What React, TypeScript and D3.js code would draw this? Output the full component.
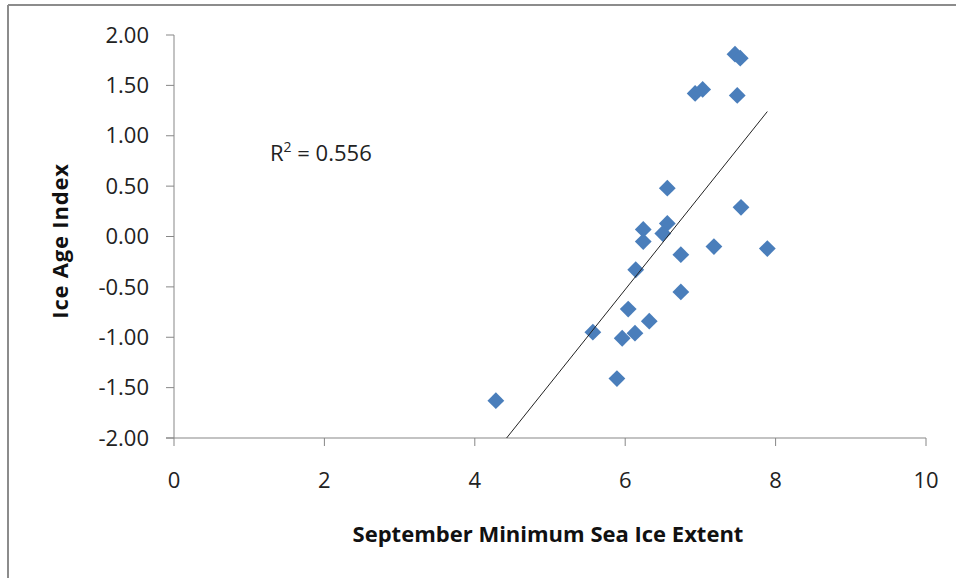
import React from 'react';
import * as d3 from 'd3';

// september minimum extent vs ice age index
const extent = [7.46, 7.53, 6.93, 7.03, 7.49, 6.56, 7.54, 6.24, 6.56, 6.50, 6.24, 7.18,
  7.89, 6.74, 6.14, 6.74, 6.04, 6.32, 5.57, 5.96, 6.13, 5.89, 4.28];
const iceAge = [1.81, 1.77, 1.42, 1.46, 1.40, 0.48, 0.29, 0.07, 0.13, 0.03, -0.05, -0.10,
  -0.12, -0.18, -0.33, -0.55, -0.72, -0.84, -0.95, -1.01, -0.96, -1.41, -1.63];
const xTicks = [0, 2, 4, 6, 8, 10];
const yTicks = [2, 1.5, 1, 0.5, 0, -0.5, -1, -1.5, -2];

const settings = {
  left: 174, right: 926, top: 35, bottom: 438
};

const font = '"Open Sans", Lato, sans-serif';

// excel shows a plain hyphen for negatives
const fmt = d3.formatLocale({ decimal: '.', thousands: ',', grouping: [3], currency: ['', ''], minus: '-' }).format('.2f');

// plain least squares, like excel's linear trendline
const fitLine = function(xs: number[], ys: number[]) {
  const mx = d3.mean(xs) as number;
  const my = d3.mean(ys) as number;
  let sxy = 0, sxx = 0, syy = 0;
  xs.forEach((x, i) => {
    sxy += (x - mx) * (ys[i] - my);
    sxx += (x - mx) * (x - mx);
    syy += (ys[i] - my) * (ys[i] - my);
  });
  const slope = sxy / sxx;
  return { slope, intercept: my - slope * mx, r2: (sxy * sxy) / (sxx * syy) };
};

export default function App() {
  const xScale = d3.scaleLinear().domain([0, 10]).range([settings.left, settings.right]);
  const yScale = d3.scaleLinear().domain([-2, 2]).range([settings.bottom, settings.top]);

  const fit = fitLine(extent, iceAge);
  const xLo = Math.max(d3.min(extent) as number, (-2 - fit.intercept) / fit.slope);
  const xHi = d3.max(extent) as number;

  const diamond = d3.symbol().type(d3.symbolDiamond2).size(180)();
  const axisColor = '#878787';

  return (
    <svg width={956} height={578} style={{ position: 'absolute', left: 0, top: 0 }}>
      <rect x={0} y={0} width={956} height={578} fill="#fff" />
      {/* outer chart frame, cut at the right and bottom */}
      <line x1={8} x2={8} y1={5} y2={578} stroke="#8c8c8c" strokeWidth={2} />
      <line x1={8} x2={956} y1={5} y2={5} stroke="#8c8c8c" strokeWidth={2} />

      {/* y axis */}
      <line x1={settings.left} x2={settings.left} y1={settings.top} y2={settings.bottom} stroke={axisColor} />
      {yTicks.map(t => (
        <g key={'y' + t}>
          <line x1={settings.left - 8} x2={settings.left} y1={yScale(t)} y2={yScale(t)} stroke={axisColor} />
          <text x={settings.left - 25} y={yScale(t)} dy="0.35em" textAnchor="end"
                fontFamily={font} fontSize={22} fill="#222">{fmt(t)}</text>
        </g>
      ))}

      {/* x axis */}
      <line x1={settings.left - 8} x2={settings.right} y1={settings.bottom} y2={settings.bottom} stroke={axisColor} />
      {xTicks.map(t => (
        <g key={'x' + t}>
          <line x1={xScale(t)} x2={xScale(t)} y1={settings.bottom} y2={settings.bottom + 8} stroke={axisColor} />
          <text x={xScale(t)} y={480} dy="0.35em" textAnchor="middle"
                fontFamily={font} fontSize={22} fill="#222">{t}</text>
        </g>
      ))}

      {/* points */}
      {extent.map((x, i) => (
        <path key={i} d={diamond as string} transform={`translate(${xScale(x)},${yScale(iceAge[i])})`}
              fill="#4a7ebb" />
      ))}

      {/* trendline */}
      <line x1={xScale(xLo)} y1={yScale(fit.slope * xLo + fit.intercept)}
            x2={xScale(xHi)} y2={yScale(fit.slope * xHi + fit.intercept)}
            stroke="#222" strokeWidth={1} />

      <text x={270} y={153} dy="0.35em" fontFamily={font} fontSize={22} fill="#222">
        R<tspan fontSize={14} dy="-0.6em">2</tspan><tspan dy="0.38em"> = {fit.r2.toFixed(3)}</tspan>
      </text>

      <text x={548} y={534} dy="0.35em" textAnchor="middle" fontFamily={font}
            fontSize={22} fontWeight="bold" fill="#111">September Minimum Sea Ice Extent</text>
      <text transform="translate(60,241) rotate(-90)" dy="0.35em" textAnchor="middle" fontFamily={font}
            fontSize={22} fontWeight="bold" letterSpacing={0.8} fill="#111">Ice Age Index</text>
    </svg>
  );
}
